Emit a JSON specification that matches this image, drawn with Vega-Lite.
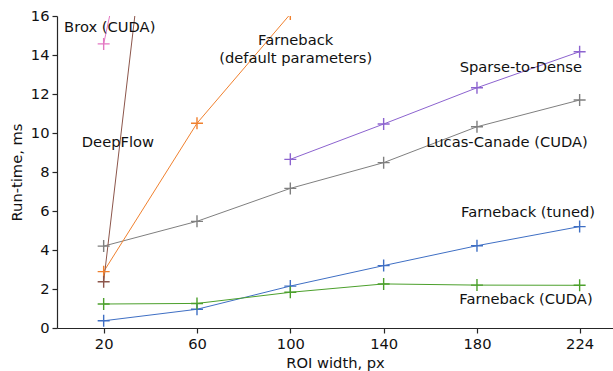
{
  "$schema": "https://vega.github.io/schema/vega-lite/v6.json",
  "width": 556,
  "height": 312,
  "autosize": {"type": "none"},
  "padding": {"left": 57, "top": 16, "right": 0, "bottom": 43},
  "background": "white",
  "view": {"stroke": null},
  "config": {
    "font": "DejaVu Sans",
    "axis": {
      "grid": false,
      "domainColor": "#262626",
      "domainWidth": 1.2,
      "tickColor": "#262626",
      "tickWidth": 1.2,
      "tickSize": 5,
      "labelColor": "#111",
      "labelFont": "DejaVu Sans",
      "labelFontSize": 14.7,
      "labelOverlap": false,
      "titleFont": "DejaVu Sans",
      "titleFontSize": 14.7,
      "titleFontWeight": "normal",
      "titleColor": "#111",
      "labelPadding": 3
    }
  },
  "datasets": {
    "pts": [
      {"series": "Farneback (tuned)", "roi": 20, "ms": 0.37},
      {"series": "Farneback (tuned)", "roi": 60, "ms": 0.96},
      {"series": "Farneback (tuned)", "roi": 100, "ms": 2.15},
      {"series": "Farneback (tuned)", "roi": 140, "ms": 3.2},
      {"series": "Farneback (tuned)", "roi": 180, "ms": 4.22},
      {"series": "Farneback (tuned)", "roi": 224, "ms": 5.2},
      {"series": "Farneback (CUDA)", "roi": 20, "ms": 1.23},
      {"series": "Farneback (CUDA)", "roi": 60, "ms": 1.26},
      {"series": "Farneback (CUDA)", "roi": 100, "ms": 1.83},
      {"series": "Farneback (CUDA)", "roi": 140, "ms": 2.26},
      {"series": "Farneback (CUDA)", "roi": 180, "ms": 2.2},
      {"series": "Farneback (CUDA)", "roi": 224, "ms": 2.19},
      {"series": "Lucas-Canade (CUDA)", "roi": 20, "ms": 4.2},
      {"series": "Lucas-Canade (CUDA)", "roi": 60, "ms": 5.47},
      {"series": "Lucas-Canade (CUDA)", "roi": 100, "ms": 7.16},
      {"series": "Lucas-Canade (CUDA)", "roi": 140, "ms": 8.48},
      {"series": "Lucas-Canade (CUDA)", "roi": 180, "ms": 10.32},
      {"series": "Lucas-Canade (CUDA)", "roi": 224, "ms": 11.69},
      {"series": "Sparse-to-Dense", "roi": 100, "ms": 8.65},
      {"series": "Sparse-to-Dense", "roi": 140, "ms": 10.46},
      {"series": "Sparse-to-Dense", "roi": 180, "ms": 12.32},
      {"series": "Sparse-to-Dense", "roi": 224, "ms": 14.17},
      {"series": "Farneback (default parameters)", "roi": 20, "ms": 2.89},
      {"series": "Farneback (default parameters)", "roi": 60, "ms": 10.5},
      {"series": "Farneback (default parameters)", "roi": 100, "ms": 16.1},
      {"series": "DeepFlow", "roi": 20, "ms": 2.37},
      {"series": "DeepFlow", "roi": 60, "ms": 43.2},
      {"series": "Brox (CUDA)", "roi": 20, "ms": 14.57},
      {"series": "Brox (CUDA)", "roi": 60, "ms": 36.9}
    ],
    "labels": [
      {"label": "Brox (CUDA)", "roi": 22.6, "ms": 15.38},
      {"label": "DeepFlow", "roi": 26.1, "ms": 9.49},
      {"label": "Farneback\n(default parameters)", "roi": 102.3, "ms": 14.73},
      {"label": "Sparse-to-Dense", "roi": 198.8, "ms": 13.32},
      {"label": "Lucas-Canade (CUDA)", "roi": 192.9, "ms": 9.49},
      {"label": "Farneback (tuned)", "roi": 201.9, "ms": 5.91},
      {"label": "Farneback (CUDA)", "roi": 201, "ms": 1.44}
    ]
  },
  "layer": [
    {
      "data": {"name": "pts"},
      "mark": {"type": "line", "clip": true, "strokeWidth": 1},
      "encoding": {
        "x": {"field": "roi", "type": "quantitative", "scale": {"domain": [0, 238.3], "nice": false, "zero": false},
              "axis": {"values": [20, 60, 100, 140, 180, 224], "tickCount": 20, "title": "ROI width, px", "titlePadding": 5}},
        "y": {"field": "ms", "type": "quantitative", "scale": {"domain": [0, 16], "nice": false},
              "axis": {"values": [0, 2, 4, 6, 8, 10, 12, 14, 16], "tickCount": 20, "title": "Run-time, ms", "titlePadding": 6, "labelOverlap": false}},
        "color": {"field": "series", "type": "nominal", "legend": null,
          "scale": {
            "domain": ["Farneback (tuned)", "Farneback (default parameters)", "Farneback (CUDA)", "Sparse-to-Dense", "DeepFlow", "Brox (CUDA)", "Lucas-Canade (CUDA)"],
            "range": ["#3f6fc4", "#f0802e", "#4ca02c", "#8c63cf", "#8c564b", "#e377c2", "#7f7f7f"]
          }},
        "detail": {"field": "series"}
      }
    },
    {
      "data": {"name": "pts"},
      "mark": {"type": "point", "clip": true, "filled": false, "shape": "M-1,0L1,0M0,-1L0,1", "size": 144, "strokeWidth": 1.4, "opacity": 1},
      "encoding": {
        "x": {"field": "roi", "type": "quantitative"},
        "y": {"field": "ms", "type": "quantitative"},
        "color": {"field": "series", "type": "nominal", "legend": null}
      }
    },
    {
      "mark": {"type": "rule", "color": "#262626", "strokeWidth": 1.2},
      "encoding": {"y": {"datum": 16, "type": "quantitative",
        "axis": {"values": [0, 2, 4, 6, 8, 10, 12, 14, 16], "tickCount": 20, "title": "Run-time, ms", "titlePadding": 6, "labelOverlap": false}}}
    },
    {
      "data": {"name": "labels"},
      "mark": {"type": "text", "font": "DejaVu Sans", "fontSize": 14.7, "color": "#111", "align": "center", "baseline": "middle", "lineBreak": "\n", "lineHeight": 18.5},
      "encoding": {
        "x": {"field": "roi", "type": "quantitative"},
        "y": {"field": "ms", "type": "quantitative"},
        "text": {"field": "label"}
      }
    }
  ]
}
